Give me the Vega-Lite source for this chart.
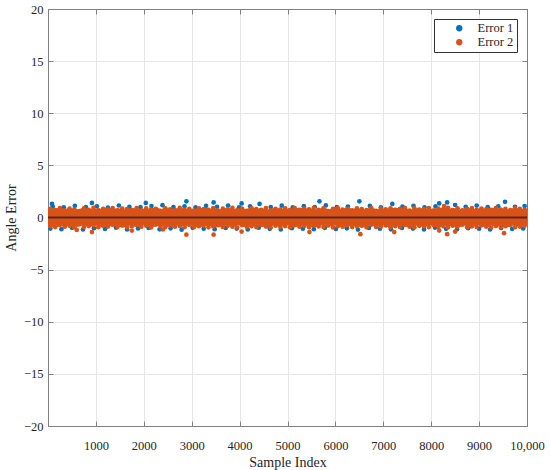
{
  "$schema": "https://vega.github.io/schema/vega-lite/v6.json",
  "width": 479,
  "height": 417,
  "autosize": {"type": "none"},
  "padding": {"left": 48, "top": 9, "right": 23, "bottom": 44},
  "config": {
    "font": "Liberation Serif",
    "view": {"stroke": null},
    "axis": {
      "labelFont": "Liberation Serif",
      "labelFontSize": 12.5,
      "labelColor": "#262626",
      "labelFlush": false,
      "labelOverlap": false,
      "titleFont": "Liberation Serif",
      "titleFontSize": 14,
      "titleFontWeight": "normal",
      "titleColor": "#262626",
      "domainColor": "#808080",
      "tickColor": "#808080",
      "gridColor": "#e6e6e6",
      "tickSize": -5
    }
  },
  "datasets": {
    "e1": [
      {"x":100,"y":1.05},{"x":330,"y":0.98},{"x":560,"y":1.12},{"x":790,"y":1.0},{"x":1020,"y":1.08},
      {"x":1250,"y":0.96},{"x":1480,"y":1.15},{"x":1700,"y":1.02},{"x":1930,"y":0.99},{"x":2160,"y":1.1},
      {"x":2390,"y":1.18},{"x":2620,"y":1.0},{"x":2850,"y":1.06},{"x":3080,"y":0.97},{"x":3300,"y":1.12},
      {"x":3530,"y":1.03},{"x":3760,"y":1.15},{"x":3990,"y":0.98},{"x":4220,"y":1.07},{"x":4650,"y":1.0},
      {"x":4880,"y":1.13},{"x":5110,"y":0.97},{"x":5340,"y":1.09},{"x":5570,"y":1.01},{"x":5800,"y":1.16},
      {"x":6030,"y":0.99},{"x":6260,"y":1.05},{"x":6720,"y":1.11},{"x":6950,"y":0.98},{"x":7400,"y":1.04},
      {"x":7630,"y":1.12},{"x":7860,"y":0.97},{"x":8090,"y":1.06},{"x":8720,"y":1.02},{"x":8950,"y":1.14},
      {"x":9180,"y":0.99},{"x":9400,"y":1.08},{"x":9750,"y":1.03},{"x":9950,"y":1.1},
      {"x":50,"y":-1.06},{"x":280,"y":-1.12},{"x":500,"y":-0.99},{"x":730,"y":-1.15},{"x":960,"y":-1.03},
      {"x":1190,"y":-1.1},{"x":1420,"y":-0.98},{"x":1650,"y":-1.14},{"x":1880,"y":-1.05},{"x":2100,"y":-1.0},
      {"x":2330,"y":-1.13},{"x":2560,"y":-1.04},{"x":2790,"y":-1.17},{"x":3020,"y":-0.99},{"x":3250,"y":-1.08},
      {"x":3480,"y":-1.12},{"x":3710,"y":-1.0},{"x":3940,"y":-1.06},{"x":4170,"y":-1.14},{"x":4400,"y":-0.98},
      {"x":4630,"y":-1.09},{"x":4860,"y":-1.15},{"x":5090,"y":-1.02},{"x":5320,"y":-1.07},{"x":5550,"y":-1.12},
      {"x":5780,"y":-0.99},{"x":6010,"y":-1.1},{"x":6240,"y":-1.04},{"x":6470,"y":-1.16},{"x":6700,"y":-1.0},
      {"x":6930,"y":-1.08},{"x":7160,"y":-1.13},{"x":7390,"y":-1.01},{"x":7620,"y":-1.06},{"x":7850,"y":-1.14},
      {"x":8080,"y":-0.98},{"x":8310,"y":-1.09},{"x":8540,"y":-1.12},{"x":8770,"y":-1.03},{"x":9000,"y":-1.07},
      {"x":9230,"y":-1.15},{"x":9460,"y":-1.0},{"x":9690,"y":-1.1},{"x":9920,"y":-1.05},
      {"x":83,"y":1.3},{"x":917,"y":1.4},{"x":2042,"y":1.4},{"x":2889,"y":1.55},{"x":3458,"y":1.45},
      {"x":4042,"y":1.35},{"x":4417,"y":1.3},{"x":5667,"y":1.55},{"x":6500,"y":1.55},{"x":7188,"y":1.3},
      {"x":8167,"y":1.35},{"x":8333,"y":1.45},{"x":8500,"y":1.2},{"x":9541,"y":1.5}
    ],
    "e2": [
      {"x":50,"y":0.05},{"x":50,"y":0.82},{"x":50,"y":-0.85},
      {"x":150,"y":-0.1},{"x":150,"y":0.71},{"x":150,"y":-0.92},
      {"x":250,"y":0.12},{"x":250,"y":0.9},{"x":250,"y":-0.7},
      {"x":350,"y":-0.03},{"x":350,"y":0.66},{"x":350,"y":-0.88},
      {"x":450,"y":0.08},{"x":450,"y":0.85},{"x":450,"y":-0.78},
      {"x":550,"y":-0.12},{"x":550,"y":0.78},{"x":550,"y":-0.95},
      {"x":650,"y":0.0},{"x":650,"y":0.6},{"x":650,"y":-0.66},
      {"x":750,"y":0.1},{"x":750,"y":0.88},{"x":750,"y":-0.9},
      {"x":850,"y":-0.06},{"x":850,"y":0.74},{"x":850,"y":-0.82},
      {"x":950,"y":0.03},{"x":950,"y":0.92},{"x":950,"y":-0.74},
      {"x":1050,"y":0.05},{"x":1050,"y":0.69},{"x":1050,"y":-0.93},
      {"x":1150,"y":-0.1},{"x":1150,"y":0.84},{"x":1150,"y":-0.8},
      {"x":1250,"y":0.12},{"x":1250,"y":0.77},{"x":1250,"y":-0.87},
      {"x":1350,"y":-0.03},{"x":1350,"y":0.9},{"x":1350,"y":-0.69},
      {"x":1450,"y":0.08},{"x":1450,"y":0.63},{"x":1450,"y":-0.91},
      {"x":1550,"y":-0.12},{"x":1550,"y":0.86},{"x":1550,"y":-0.76},
      {"x":1650,"y":0.0},{"x":1650,"y":0.8},{"x":1650,"y":-0.94},
      {"x":1750,"y":0.1},{"x":1750,"y":0.72},{"x":1750,"y":-0.84},
      {"x":1850,"y":-0.06},{"x":1850,"y":0.91},{"x":1850,"y":-0.72},
      {"x":1950,"y":0.03},{"x":1950,"y":0.68},{"x":1950,"y":-0.89},
      {"x":2050,"y":0.05},{"x":2050,"y":0.87},{"x":2050,"y":-0.79},
      {"x":2150,"y":-0.1},{"x":2150,"y":0.75},{"x":2150,"y":-0.95},
      {"x":2250,"y":0.12},{"x":2250,"y":0.83},{"x":2250,"y":-0.68},
      {"x":2350,"y":-0.03},{"x":2350,"y":0.65},{"x":2350,"y":-0.86},
      {"x":2450,"y":0.08},{"x":2450,"y":0.89},{"x":2450,"y":-0.92},
      {"x":2550,"y":-0.12},{"x":2550,"y":0.79},{"x":2550,"y":-0.75},
      {"x":2650,"y":0.0},{"x":2650,"y":0.7},{"x":2650,"y":-0.88},
      {"x":2750,"y":0.1},{"x":2750,"y":0.92},{"x":2750,"y":-0.81},
      {"x":2850,"y":-0.06},{"x":2850,"y":0.76},{"x":2850,"y":-0.93},
      {"x":2950,"y":0.03},{"x":2950,"y":0.84},{"x":2950,"y":-0.7},
      {"x":3050,"y":0.05},{"x":3050,"y":0.62},{"x":3050,"y":-0.9},
      {"x":3150,"y":-0.1},{"x":3150,"y":0.88},{"x":3150,"y":-0.83},
      {"x":3250,"y":0.12},{"x":3250,"y":0.81},{"x":3250,"y":-0.77},
      {"x":3350,"y":-0.03},{"x":3350,"y":0.73},{"x":3350,"y":-0.94},
      {"x":3450,"y":0.08},{"x":3450,"y":0.9},{"x":3450,"y":-0.86},
      {"x":3550,"y":-0.12},{"x":3550,"y":0.67},{"x":3550,"y":-0.67},
      {"x":3650,"y":0.0},{"x":3650,"y":0.85},{"x":3650,"y":-0.91},
      {"x":3750,"y":0.1},{"x":3750,"y":0.78},{"x":3750,"y":-0.8},
      {"x":3850,"y":-0.06},{"x":3850,"y":0.92},{"x":3850,"y":-0.88},
      {"x":3950,"y":0.03},{"x":3950,"y":0.7},{"x":3950,"y":-0.96},
      {"x":4050,"y":0.05},{"x":4050,"y":0.86},{"x":4050,"y":-0.73},
      {"x":4150,"y":-0.1},{"x":4150,"y":0.64},{"x":4150,"y":-0.89},
      {"x":4250,"y":0.12},{"x":4250,"y":0.89},{"x":4250,"y":-0.84},
      {"x":4350,"y":-0.03},{"x":4350,"y":0.8},{"x":4350,"y":-0.92},
      {"x":4450,"y":0.08},{"x":4450,"y":0.74},{"x":4450,"y":-0.7},
      {"x":4550,"y":-0.12},{"x":4550,"y":0.91},{"x":4550,"y":-0.87},
      {"x":4650,"y":0.0},{"x":4650,"y":0.68},{"x":4650,"y":-0.95},
      {"x":4750,"y":0.1},{"x":4750,"y":0.83},{"x":4750,"y":-0.78},
      {"x":4850,"y":-0.06},{"x":4850,"y":0.77},{"x":4850,"y":-0.9},
      {"x":4950,"y":0.03},{"x":4950,"y":0.88},{"x":4950,"y":-0.82},
      {"x":5050,"y":0.05},{"x":5050,"y":0.71},{"x":5050,"y":-0.94},
      {"x":5150,"y":-0.1},{"x":5150,"y":0.9},{"x":5150,"y":-0.74},
      {"x":5250,"y":0.12},{"x":5250,"y":0.66},{"x":5250,"y":-0.88},
      {"x":5350,"y":-0.03},{"x":5350,"y":0.85},{"x":5350,"y":-0.81},
      {"x":5450,"y":0.08},{"x":5450,"y":0.79},{"x":5450,"y":-0.93},
      {"x":5550,"y":-0.12},{"x":5550,"y":0.92},{"x":5550,"y":-0.69},
      {"x":5650,"y":0.0},{"x":5650,"y":0.73},{"x":5650,"y":-0.86},
      {"x":5750,"y":0.1},{"x":5750,"y":0.87},{"x":5750,"y":-0.91},
      {"x":5850,"y":-0.06},{"x":5850,"y":0.62},{"x":5850,"y":-0.77},
      {"x":5950,"y":0.03},{"x":5950,"y":0.84},{"x":5950,"y":-0.95},
      {"x":6050,"y":0.05},{"x":6050,"y":0.9},{"x":6050,"y":-0.83},
      {"x":6150,"y":-0.1},{"x":6150,"y":0.76},{"x":6150,"y":-0.89},
      {"x":6250,"y":0.12},{"x":6250,"y":0.82},{"x":6250,"y":-0.72},
      {"x":6350,"y":-0.03},{"x":6350,"y":0.69},{"x":6350,"y":-0.92},
      {"x":6450,"y":0.08},{"x":6450,"y":0.88},{"x":6450,"y":-0.85},
      {"x":6550,"y":-0.12},{"x":6550,"y":0.8},{"x":6550,"y":-0.79},
      {"x":6650,"y":0.0},{"x":6650,"y":0.72},{"x":6650,"y":-0.94},
      {"x":6750,"y":0.1},{"x":6750,"y":0.91},{"x":6750,"y":-0.68},
      {"x":6850,"y":-0.06},{"x":6850,"y":0.65},{"x":6850,"y":-0.9},
      {"x":6950,"y":0.03},{"x":6950,"y":0.86},{"x":6950,"y":-0.87},
      {"x":7050,"y":0.05},{"x":7050,"y":0.78},{"x":7050,"y":-0.76},
      {"x":7150,"y":-0.1},{"x":7150,"y":0.89},{"x":7150,"y":-0.93},
      {"x":7250,"y":0.12},{"x":7250,"y":0.7},{"x":7250,"y":-0.84},
      {"x":7350,"y":-0.03},{"x":7350,"y":0.84},{"x":7350,"y":-0.91},
      {"x":7450,"y":0.08},{"x":7450,"y":0.92},{"x":7450,"y":-0.7},
      {"x":7550,"y":-0.12},{"x":7550,"y":0.67},{"x":7550,"y":-0.88},
      {"x":7650,"y":0.0},{"x":7650,"y":0.87},{"x":7650,"y":-0.95},
      {"x":7750,"y":0.1},{"x":7750,"y":0.75},{"x":7750,"y":-0.8},
      {"x":7850,"y":-0.06},{"x":7850,"y":0.81},{"x":7850,"y":-0.86},
      {"x":7950,"y":0.03},{"x":7950,"y":0.9},{"x":7950,"y":-0.92},
      {"x":8050,"y":0.05},{"x":8050,"y":0.63},{"x":8050,"y":-0.73},
      {"x":8150,"y":-0.1},{"x":8150,"y":0.85},{"x":8150,"y":-0.9},
      {"x":8250,"y":0.12},{"x":8250,"y":0.79},{"x":8250,"y":-0.82},
      {"x":8350,"y":-0.03},{"x":8350,"y":0.92},{"x":8350,"y":-0.94},
      {"x":8450,"y":0.08},{"x":8450,"y":0.72},{"x":8450,"y":-0.78},
      {"x":8550,"y":-0.12},{"x":8550,"y":0.88},{"x":8550,"y":-0.87},
      {"x":8650,"y":0.0},{"x":8650,"y":0.68},{"x":8650,"y":-0.69},
      {"x":8750,"y":0.1},{"x":8750,"y":0.83},{"x":8750,"y":-0.93},
      {"x":8850,"y":-0.06},{"x":8850,"y":0.9},{"x":8850,"y":-0.85},
      {"x":8950,"y":0.03},{"x":8950,"y":0.74},{"x":8950,"y":-0.91},
      {"x":9050,"y":0.05},{"x":9050,"y":0.86},{"x":9050,"y":-0.75},
      {"x":9150,"y":-0.1},{"x":9150,"y":0.8},{"x":9150,"y":-0.88},
      {"x":9250,"y":0.12},{"x":9250,"y":0.66},{"x":9250,"y":-0.96},
      {"x":9350,"y":-0.03},{"x":9350,"y":0.91},{"x":9350,"y":-0.81},
      {"x":9450,"y":0.08},{"x":9450,"y":0.77},{"x":9450,"y":-0.9},
      {"x":9550,"y":-0.12},{"x":9550,"y":0.84},{"x":9550,"y":-0.84},
      {"x":9650,"y":0.0},{"x":9650,"y":0.7},{"x":9650,"y":-0.72},
      {"x":9750,"y":0.1},{"x":9750,"y":0.89},{"x":9750,"y":-0.93},
      {"x":9850,"y":-0.06},{"x":9850,"y":0.82},{"x":9850,"y":-0.87},
      {"x":9950,"y":0.03},{"x":9950,"y":0.75},{"x":9950,"y":-0.79},
      {"x":917,"y":-1.4},{"x":1750,"y":-1.25},{"x":2889,"y":-1.65},{"x":3458,"y":-1.65},
      {"x":4042,"y":-1.35},{"x":5458,"y":-1.4},{"x":6521,"y":-1.6},{"x":7229,"y":-1.4},
      {"x":8167,"y":-1.25},{"x":8333,"y":-1.6},{"x":8500,"y":-1.35},{"x":9521,"y":-1.5},
      {"x":8270,"y":1.1},{"x":2400,"y":-1.15},{"x":600,"y":-1.2}
    ],
    "zero": [{"x":0,"y":0},{"x":10000,"y":0}]
  },
  "layer": [
    {
      "data": {"name": "e1"},
      "mark": {"type": "circle", "size": 22, "opacity": 1},
      "encoding": {
        "x": {
          "field": "x",
          "type": "quantitative",
          "scale": {"domain": [0, 10000]},
          "axis": {
            "values": [1000, 2000, 3000, 4000, 5000, 6000, 7000, 8000, 9000, 10000],
            "labelExpr": "datum.value == 10000 ? '10,000' : format(datum.value, 'd')",
            "title": "Sample Index",
            "labelPadding": 18,
            "titlePadding": 4
          }
        },
        "y": {
          "field": "y",
          "type": "quantitative",
          "scale": {"domain": [-20, 20]},
          "axis": {
            "values": [-20, -15, -10, -5, 0, 5, 10, 15, 20],
            "format": "d",
            "title": "Angle Error",
            "labelPadding": 10,
            "titlePadding": 5
          }
        },
        "color": {
          "datum": "Error 1",
          "type": "nominal",
          "scale": {"domain": ["Error 1", "Error 2"], "range": ["#0072BD", "#D95319"]},
          "legend": {
            "orient": "none",
            "legendX": 386,
            "legendY": 10,
            "title": null,
            "strokeColor": "#333333",
            "fillColor": "white",
            "padding": 3,
            "symbolType": "circle",
            "symbolSize": 40,
            "symbolOffset": 16,
            "labelOffset": 12,
            "labelFont": "Liberation Serif",
            "labelFontSize": 12.5,
            "labelColor": "#262626",
            "rowPadding": 1
          }
        }
      }
    },
    {
      "data": {"name": "e2"},
      "transform": [{"filter": "abs(datum.y) >= 0.3"}],
      "mark": {"type": "circle", "size": 22, "opacity": 1},
      "encoding": {
        "x": {"field": "x", "type": "quantitative", "axis": null},
        "y": {"field": "y", "type": "quantitative", "axis": null},
        "color": {"datum": "Error 2", "type": "nominal"}
      }
    },
    {
      "data": {"name": "e2"},
      "transform": [{"filter": "abs(datum.y) < 0.3"}],
      "mark": {"type": "circle", "size": 300, "opacity": 1, "clip": true},
      "encoding": {
        "x": {"field": "x", "type": "quantitative", "axis": null},
        "y": {"field": "y", "type": "quantitative", "axis": null},
        "color": {"datum": "Error 2", "type": "nominal"}
      }
    },
    {
      "data": {"name": "zero"},
      "mark": {"type": "line", "color": "black", "strokeWidth": 2, "opacity": 0.55},
      "encoding": {
        "x": {
          "field": "x",
          "type": "quantitative",
          "axis": {"orient": "top", "labels": false, "title": null, "grid": false,
                   "values": [1000, 2000, 3000, 4000, 5000, 6000, 7000, 8000, 9000, 10000]}
        },
        "y": {
          "field": "y",
          "type": "quantitative",
          "axis": {"orient": "right", "labels": false, "title": null, "grid": false,
                   "values": [-20, -15, -10, -5, 0, 5, 10, 15, 20]}
        }
      }
    }
  ],
  "resolve": {"axis": {"x": "independent", "y": "independent"}}
}
